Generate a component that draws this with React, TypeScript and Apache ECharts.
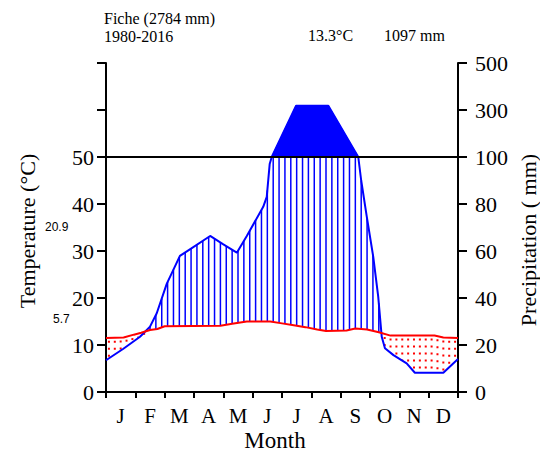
import React, { useEffect, useRef } from 'react';
import * as echarts from 'echarts';

// ---- data ----
const months = ['J', 'F', 'M', 'A', 'M', 'J', 'J', 'A', 'S', 'O', 'N', 'D'];

// temperature curve (position in months from Jan start, °C)
const tempPos = [0, 0.6, 0.95, 1.2, 1.5, 1.75, 2.0, 3.9, 4.3, 4.8, 5.6, 6.0, 6.4, 6.8, 7.2, 7.5, 8.2, 8.5, 8.9, 9.3, 9.7, 11.2, 11.5, 12];
const tempVal = [11.5, 11.6, 12.2, 12.6, 13.2, 13.4, 14.0, 14.1, 14.5, 15.0, 15.0, 14.6, 14.2, 13.8, 13.3, 13.0, 13.1, 13.5, 13.3, 12.7, 12.0, 12.0, 11.6, 11.5];

// precipitation curve (position in months, mm)
const precPos = [0, 0.58, 1.16, 1.5, 1.73, 2.07, 2.52, 2.86, 3.55, 4.0, 4.46, 4.8, 5.36, 5.48, 5.58, 5.65, 6.48, 7.58, 8.6, 8.7, 8.89, 9.11, 9.28, 9.4, 9.51, 9.8, 10.25, 10.53, 11.5, 11.9, 12];
const precVal = [13.5, 18.3, 23.5, 27.8, 33.5, 46, 57.9, 60.7, 66.4, 62.8, 59.3, 66.4, 78.8, 83, 97, 100, 318, 318, 100, 90, 74.6, 57.6, 40.6, 23.5, 18.6, 15.7, 12.2, 8.2, 8.2, 12.9, 14];

const leftTickLabels = ['0', '10', '20', '30', '40', '50', '', ''];
const rightTickLabels = ['0', '20', '40', '60', '80', '100', '300', '500'];

const stationTitle = 'Fiche (2784 mm)';
const periodText = '1980-2016';
const meanTempText = '13.3°C';
const annualPrecText = '1097 mm';
const maxWarmText = '20.9';
const minColdText = '5.7';

const SERIF = "'Liberation Serif', 'Times New Roman', serif";
const SANS = "'Liberation Sans', Arial, sans-serif";
const BLUE = '#0000ff';
const RED = '#ff0000';

// Walter-Lieth scale: 20 mm = 10 °C below 100 mm, 200 mm = 10 °C above
function precToScale(p: number) {
  return p <= 100 ? p / 2 : 50 + (p - 100) / 20;
}
const precScaled = precVal.map(precToScale);

function interp(xs: number[], ys: number[], x: number) {
  if (x <= xs[0]) return ys[0];
  for (let i = 1; i < xs.length; i++) {
    if (x <= xs[i]) {
      const t = (x - xs[i - 1]) / (xs[i] - xs[i - 1]);
      return ys[i - 1] + t * (ys[i] - ys[i - 1]);
    }
  }
  return ys[ys.length - 1];
}

function renderFills(params: any, api: any) {
  const children: any[] = [];
  const step = 0.2;
  for (let k = 0; k < 60; k++) {
    const m = (k + 0.5) * step;
    const t = interp(tempPos, tempVal, m);
    const p = interp(precPos, precScaled, m);
    if (p > t) {
      const a = api.coord([m, t]);
      const b = api.coord([m, Math.min(p, 50)]);
      children.push({
        type: 'line',
        shape: { x1: a[0], y1: a[1], x2: b[0], y2: b[1] },
        style: { stroke: BLUE, lineWidth: 1.5 },
      });
    } else if (p < t) {
      const a = api.coord([m, t]);
      const b = api.coord([m, p]);
      children.push({
        type: 'line',
        shape: { x1: a[0], y1: a[1] + 3, x2: b[0], y2: b[1] },
        style: { stroke: RED, lineWidth: 2, lineDash: [2, 5] },
      });
    }
  }
  // solid fill above 100 mm
  const pts: number[][] = [];
  for (let i = 0; i < precPos.length; i++) {
    if (i > 0) {
      const y0 = precScaled[i - 1];
      const y1 = precScaled[i];
      if ((y0 - 50) * (y1 - 50) < 0) {
        const x = precPos[i - 1] + ((50 - y0) / (y1 - y0)) * (precPos[i] - precPos[i - 1]);
        pts.push(api.coord([x, 50]));
      }
    }
    if (precScaled[i] >= 50) pts.push(api.coord([precPos[i], precScaled[i]]));
  }
  if (pts.length > 2) {
    children.push({
      type: 'polygon',
      shape: { points: pts },
      style: { fill: BLUE, stroke: BLUE, lineWidth: 1 },
    });
  }
  return { type: 'group', children };
}

export default function App() {
  const ref = useRef<HTMLDivElement>(null);
  useEffect(() => {
    if (!ref.current) return;
    const chart = echarts.init(ref.current, null, { renderer: 'svg' });
    const axisLineStyle = { color: '#000', width: 2 };
    chart.setOption({
      animation: false,
      backgroundColor: '#fff',
      grid: { left: 106, right: 82, top: 63, bottom: 60 },
      xAxis: [
        {
          type: 'category',
          data: months,
          boundaryGap: true,
          axisLine: { lineStyle: axisLineStyle },
          axisTick: { show: true, interval: 0, length: 6, lineStyle: { color: '#000', width: 2 } },
          axisLabel: { interval: 0, color: '#000', fontFamily: SERIF, fontSize: 21, margin: 13 },
          splitLine: { show: false },
        },
        { type: 'value', min: 0, max: 12, show: false },
      ],
      yAxis: [
        {
          type: 'value',
          min: 0,
          max: 70,
          interval: 10,
          position: 'left',
          axisLine: { show: true, lineStyle: axisLineStyle },
          axisTick: { show: true, length: 9, lineStyle: { color: '#000', width: 2 } },
          axisLabel: {
            color: '#000', fontFamily: SERIF, fontSize: 22, margin: 12,
            formatter: (v: number) => leftTickLabels[Math.round(v / 10)],
          },
          splitLine: { show: false },
        },
        {
          type: 'value',
          min: 0,
          max: 70,
          interval: 10,
          position: 'right',
          axisLine: { show: true, lineStyle: axisLineStyle },
          axisTick: { show: true, length: 9, lineStyle: { color: '#000', width: 2 } },
          axisLabel: {
            color: '#000', fontFamily: SERIF, fontSize: 22, margin: 17,
            formatter: (v: number) => rightTickLabels[Math.round(v / 10)],
          },
          splitLine: { show: false },
        },
      ],
      series: [
        {
          type: 'custom',
          xAxisIndex: 1,
          yAxisIndex: 0,
          data: [[0, 0]],
          renderItem: renderFills,
          clip: false,
          silent: true,
          z: 1,
        },
        {
          type: 'line',
          xAxisIndex: 1,
          yAxisIndex: 0,
          data: precPos.map((m, i) => [m, precScaled[i]]),
          symbol: 'none',
          lineStyle: { color: BLUE, width: 2 },
          z: 3,
        },
        {
          type: 'line',
          xAxisIndex: 1,
          yAxisIndex: 0,
          data: tempPos.map((m, i) => [m, tempVal[i]]),
          symbol: 'none',
          lineStyle: { color: RED, width: 2 },
          z: 4,
        },
        {
          type: 'line',
          xAxisIndex: 1,
          yAxisIndex: 0,
          data: [[0, 50], [12, 50]],
          symbol: 'none',
          lineStyle: { color: '#000', width: 2 },
          z: 5,
        },
      ],
      graphic: [
        { type: 'text', left: 104, top: 10, style: { text: stationTitle, font: `16px ${SERIF}`, fill: '#000' } },
        { type: 'text', left: 104, top: 28, style: { text: periodText, font: `16px ${SERIF}`, fill: '#000' } },
        { type: 'text', left: 308, top: 27, style: { text: meanTempText, font: `16px ${SERIF}`, fill: '#000' } },
        { type: 'text', left: 384, top: 27, style: { text: annualPrecText, font: `16px ${SERIF}`, fill: '#000' } },
        { type: 'text', left: 45, top: 221, style: { text: maxWarmText, font: `12px ${SANS}`, fill: '#000' } },
        { type: 'text', left: 53, top: 313, style: { text: minColdText, font: `12px ${SANS}`, fill: '#000' } },
        {
          type: 'text', x: 27, y: 231, rotation: Math.PI / 2,
          style: { text: 'Temperature (°C)', font: `22px ${SERIF}`, fill: '#000', align: 'center', verticalAlign: 'middle' },
        },
        {
          type: 'text', x: 528, y: 240, rotation: Math.PI / 2,
          style: { text: 'Precipitation ( mm)', font: `22px ${SERIF}`, fill: '#000', align: 'center', verticalAlign: 'middle' },
        },
        {
          type: 'text', x: 275, y: 440,
          style: { text: 'Month', font: `23px ${SERIF}`, fill: '#000', align: 'center', verticalAlign: 'middle' },
        },
      ],
    });
    return () => chart.dispose();
  }, []);
  return <div ref={ref} style={{ position: 'fixed', left: 0, top: 0, width: 540, height: 452 }} />;
}
